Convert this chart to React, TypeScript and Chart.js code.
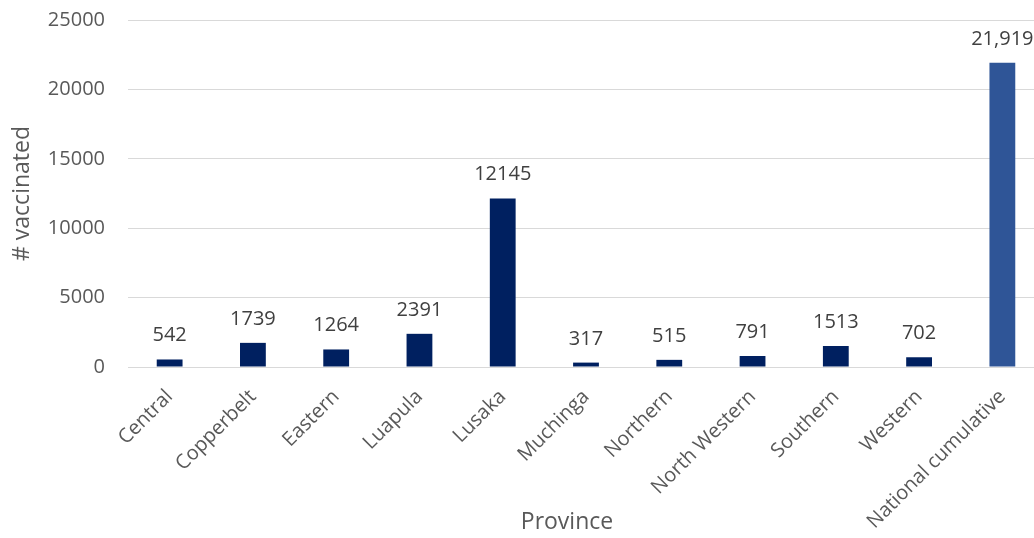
import React, { useEffect, useRef } from "react";
import { Chart, registerables } from "chart.js";

Chart.register(...registerables);

const categories = [
  "Central",
  "Copperbelt",
  "Eastern",
  "Luapula",
  "Lusaka",
  "Muchinga",
  "Northern",
  "North Western",
  "Southern",
  "Western",
  "National cumulative",
];
const vaccinated = [542, 1739, 1264, 2391, 12145, 317, 515, 791, 1513, 702, 21919];
const valueLabels = ["542", "1739", "1264", "2391", "12145", "317", "515", "791", "1513", "702", "21,919"];
const yTicks = [0, 5000, 10000, 15000, 20000, 25000];
const xTitle = "Province";
const yTitle = "# vaccinated";

const FONT = "'Open Sans', sans-serif";
const provinceColor = "#002060";
const nationalColor = "#2F5597";

export default function App() {
  const ref = useRef<HTMLCanvasElement | null>(null);

  useEffect(() => {
    const canvas = ref.current;
    if (!canvas) return;

    const labelsPlugin = {
      id: "barLabels",
      afterDatasetsDraw(chart: any) {
        const ctx = chart.ctx;
        const meta = chart.getDatasetMeta(0);
        ctx.save();
        ctx.font = `20px ${FONT}`;
        ctx.fillStyle = "#404040";
        ctx.textAlign = "center";
        ctx.textBaseline = "alphabetic";
        meta.data.forEach((bar: any, i: number) => {
          ctx.fillText(valueLabels[i], bar.x, bar.y - 18);
        });
        ctx.restore();
      },
      afterDraw(chart: any) {
        const ctx = chart.ctx;
        const area = chart.chartArea;
        ctx.save();
        ctx.font = `23px ${FONT}`;
        ctx.fillStyle = "#595959";
        ctx.textAlign = "center";
        ctx.textBaseline = "middle";
        ctx.fillText(xTitle, 567, 522);
        ctx.translate(22, (area.top + area.bottom) / 2);
        ctx.rotate(-Math.PI / 2);
        ctx.fillText(yTitle, 0, 0);
        ctx.restore();
      },
    };

    const chart = new Chart(canvas, {
      type: "bar",
      data: {
        labels: categories,
        datasets: [
          {
            data: vaccinated,
            backgroundColor: categories.map((_, i) =>
              i === categories.length - 1 ? nationalColor : provinceColor
            ),
            barPercentage: 0.31,
            categoryPercentage: 1,
          },
        ],
      },
      options: {
        responsive: false,
        animation: false,
        layout: { padding: { top: 20, right: 16, left: 0, bottom: 0 } },
        plugins: {
          legend: { display: false },
          tooltip: { enabled: false },
        },
        scales: {
          x: {
            grid: { display: false },
            border: { display: false },
            ticks: {
              autoSkip: false,
              minRotation: 45,
              maxRotation: 45,
              padding: 10,
              labelOffset: 0,
              color: "#595959",
              font: { family: FONT, size: 20 },
            },
            afterFit(scale: any) {
              scale.height = 171;
            },
          },
          y: {
            min: 0,
            max: 25000,
            afterBuildTicks(scale: any) {
              scale.ticks = yTicks.map((v) => ({ value: v }));
            },
            grid: {
              color: "#d9d9d9",
              lineWidth: 1,
              drawTicks: true,
              tickLength: 23,
              tickColor: "rgba(0,0,0,0)",
            },
            border: { display: false },
            ticks: {
              padding: 0,
              color: "#595959",
              font: { family: FONT, size: 20 },
              callback: (v: any) => String(v),
            },
            afterFit(scale: any) {
              scale.width = 128;
            },
          },
        },
      },
      plugins: [labelsPlugin],
    });

    return () => chart.destroy();
  }, []);

  return (
    <div
      style={{
        position: "fixed",
        left: 0,
        top: 0,
        width: "100vw",
        height: "100vh",
        overflow: "hidden",
        background: "#ffffff",
      }}
    >
      <canvas ref={ref} width={1060} height={538} style={{ display: "block" }} />
    </div>
  );
}
